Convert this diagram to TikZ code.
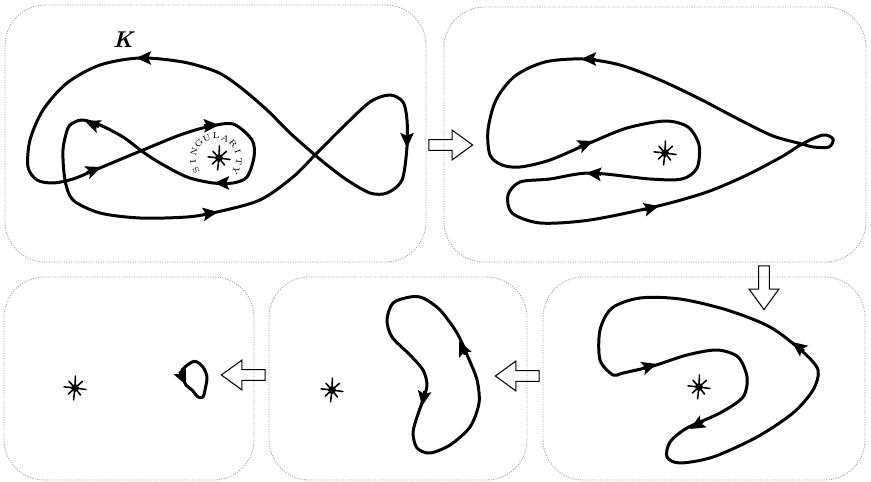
\documentclass[tikz,border=0pt]{standalone}
\usepackage{tikz}
\usetikzlibrary{arrows.meta, shapes.arrows, fit}

\tikzset{
  panel/.style={draw=gray!75, line width=0.5pt, dash pattern=on 0.6pt off 0.8pt, rounded corners=23pt, inner sep=0pt},
  knot/.style={line width=1.7pt, line join=round},
  move/.style={single arrow, draw, line width=0.6pt, minimum height=24.9pt, inner xsep=0pt, inner ysep=2.8pt, single arrow head extend=5.4pt, single arrow tip angle=72},
  letter/.style={font=\fontsize{4.8}{5}\selectfont, inner sep=0pt},
  burst/.pic={
    \foreach \a/\rl in {8/11, 52/9, 97/12, 138/9, 186/11, 228/9, 272/12, 318/10}
      \draw[line width=0.9pt, line cap=round] (0,0) -- (\a:\rl);
    \fill (0,0) circle[radius=2.2pt];
  }
}
\newcommand{\tipat}[2]{\draw[knot, -{Stealth[length=8.5pt, width=7.5pt, inset=1.6pt]}] #1 ++(#2+180:15) -- #1;}

\begin{document}
\begin{tikzpicture}[x=0.02cm, y=-0.02cm]
  \useasboundingbox (0,0) rectangle (871,482);

  % panels
  \node[panel, fit={(5,5) (426,262)}] (p1) {};
  \node[panel, fit={(444,7) (866,262)}] (p2) {};
  \node[panel, fit={(543,277) (865,480)}] (p3) {};
  \node[panel, fit={(269,277) (527,480)}] (p4) {};
  \node[panel, fit={(4,277) (254,480)}] (p5) {};

  % steps between the panels
  \node[move] (m12) at (447,145) {};
  \node[move, rotate=-90] (m23) at (764,284) {};
  \node[move, rotate=180] (m34) at (521,376) {};
  \node[move, rotate=180] (m45) at (247,375) {};

  % singularities
  \coordinate (s1) at (219,158);
  \coordinate (s2) at (665,153);
  \coordinate (s3) at (699,387);
  \coordinate (s4) at (332,390);
  \coordinate (s5) at (75,388);
  \foreach \s in {s1,s2,s3,s4,s5}
    \pic at (\s) {burst};

  % first panel: the knot K
  \node[font=\fontsize{13}{15}\selectfont\bfseries\itshape] (K) at (123,40) {K};
  \draw[knot] plot[smooth cycle] coordinates {
    (217,72) (183,62) (140,58) (100,65) (67,83) (43,110) (30,140) (28,167)
    (37,180) (53,183) (73,179) (95,170) (143,150) (180,135) (207,127) (233,124)
    (252,140) (254,157) (247,177) (233,183) (213,183) (187,177) (160,163) (143,152)
    (123,137) (100,125) (83,120) (75,122) (68,128) (63,150) (65,180) (73,200)
    (100,213) (140,218) (187,217) (217,212) (260,200) (293,177) (315,155) (343,127)
    (370,102) (390,95) (403,102) (407,120) (407,147) (402,180) (387,193) (370,193)
    (347,180) (327,165) (315,155) (290,133) (267,110) (240,87)};
  \tipat{(136,58)}{180}
  \tipat{(101,167)}{-22}
  \tipat{(219,125)}{-3}
  \tipat{(214,183)}{180}
  \tipat{(85,121)}{-158}
  \tipat{(218,212)}{-9}
  \tipat{(407,148)}{90}

  % text round the singularity
  \coordinate (arc) at (216,159);
  \foreach \ch [count=\i from 0] in {S,I,N,G,U,L,A,R,I,T,Y}
    \path (arc) ++({24*\i-210}:23) node[letter, rotate={120-24*\i}] (l\i) {\ch};

  % second panel
  \draw[knot] plot[smooth cycle] coordinates {
    (660,80) (620,65) (583,59) (545,62) (515,76) (496,100) (488,130) (490,155)
    (502,165) (520,167) (550,160) (592,142) (627,128) (665,121) (688,127) (699,145)
    (697,168) (682,179) (650,179) (590,173) (550,179) (520,182) (508,195) (512,213)
    (540,223) (590,220) (658,206) (707,192) (747,175) (783,156) (802,144) (823,135)
    (833,139) (829,147) (813,147) (802,144) (773,136) (740,120) (700,99)};
  \tipat{(581,59)}{180}
  \tipat{(593,141)}{-22}
  \tipat{(586,173)}{185}
  \tipat{(659,206)}{-14}

  % third panel
  \draw[knot] plot[smooth cycle] coordinates {
    (613,375) (623,373) (653,366) (687,355) (717,350) (738,357) (747,377) (743,397)
    (720,413) (687,428) (670,442) (667,457) (680,463) (713,457) (757,437) (793,413)
    (813,390) (818,370) (803,352) (770,327) (727,310) (680,299) (640,298) (612,308)
    (600,330) (600,360)};
  \tipat{(657,364)}{-17}
  \tipat{(690,429)}{150}
  \tipat{(792,342)}{217}

  % fourth panel
  \draw[knot] plot[smooth cycle] coordinates {
    (410,297) (393,303) (387,320) (392,337) (410,355) (423,370) (427,385) (423,400)
    (417,417) (413,433) (417,448) (430,453) (450,445) (470,427) (479,403) (477,380)
    (468,357) (457,333) (440,310) (423,298)};
  \tipat{(422,406)}{100}
  \tipat{(459,341)}{245}

  % fifth panel
  \draw[knot] plot[smooth cycle] coordinates {
    (192,362) (182,370) (183,377) (186,385) (192,390) (198,397) (203,397) (205,390)
    (207,377) (203,367) (197,362)};
  \tipat{(186,385)}{65}
\end{tikzpicture}
\end{document}
